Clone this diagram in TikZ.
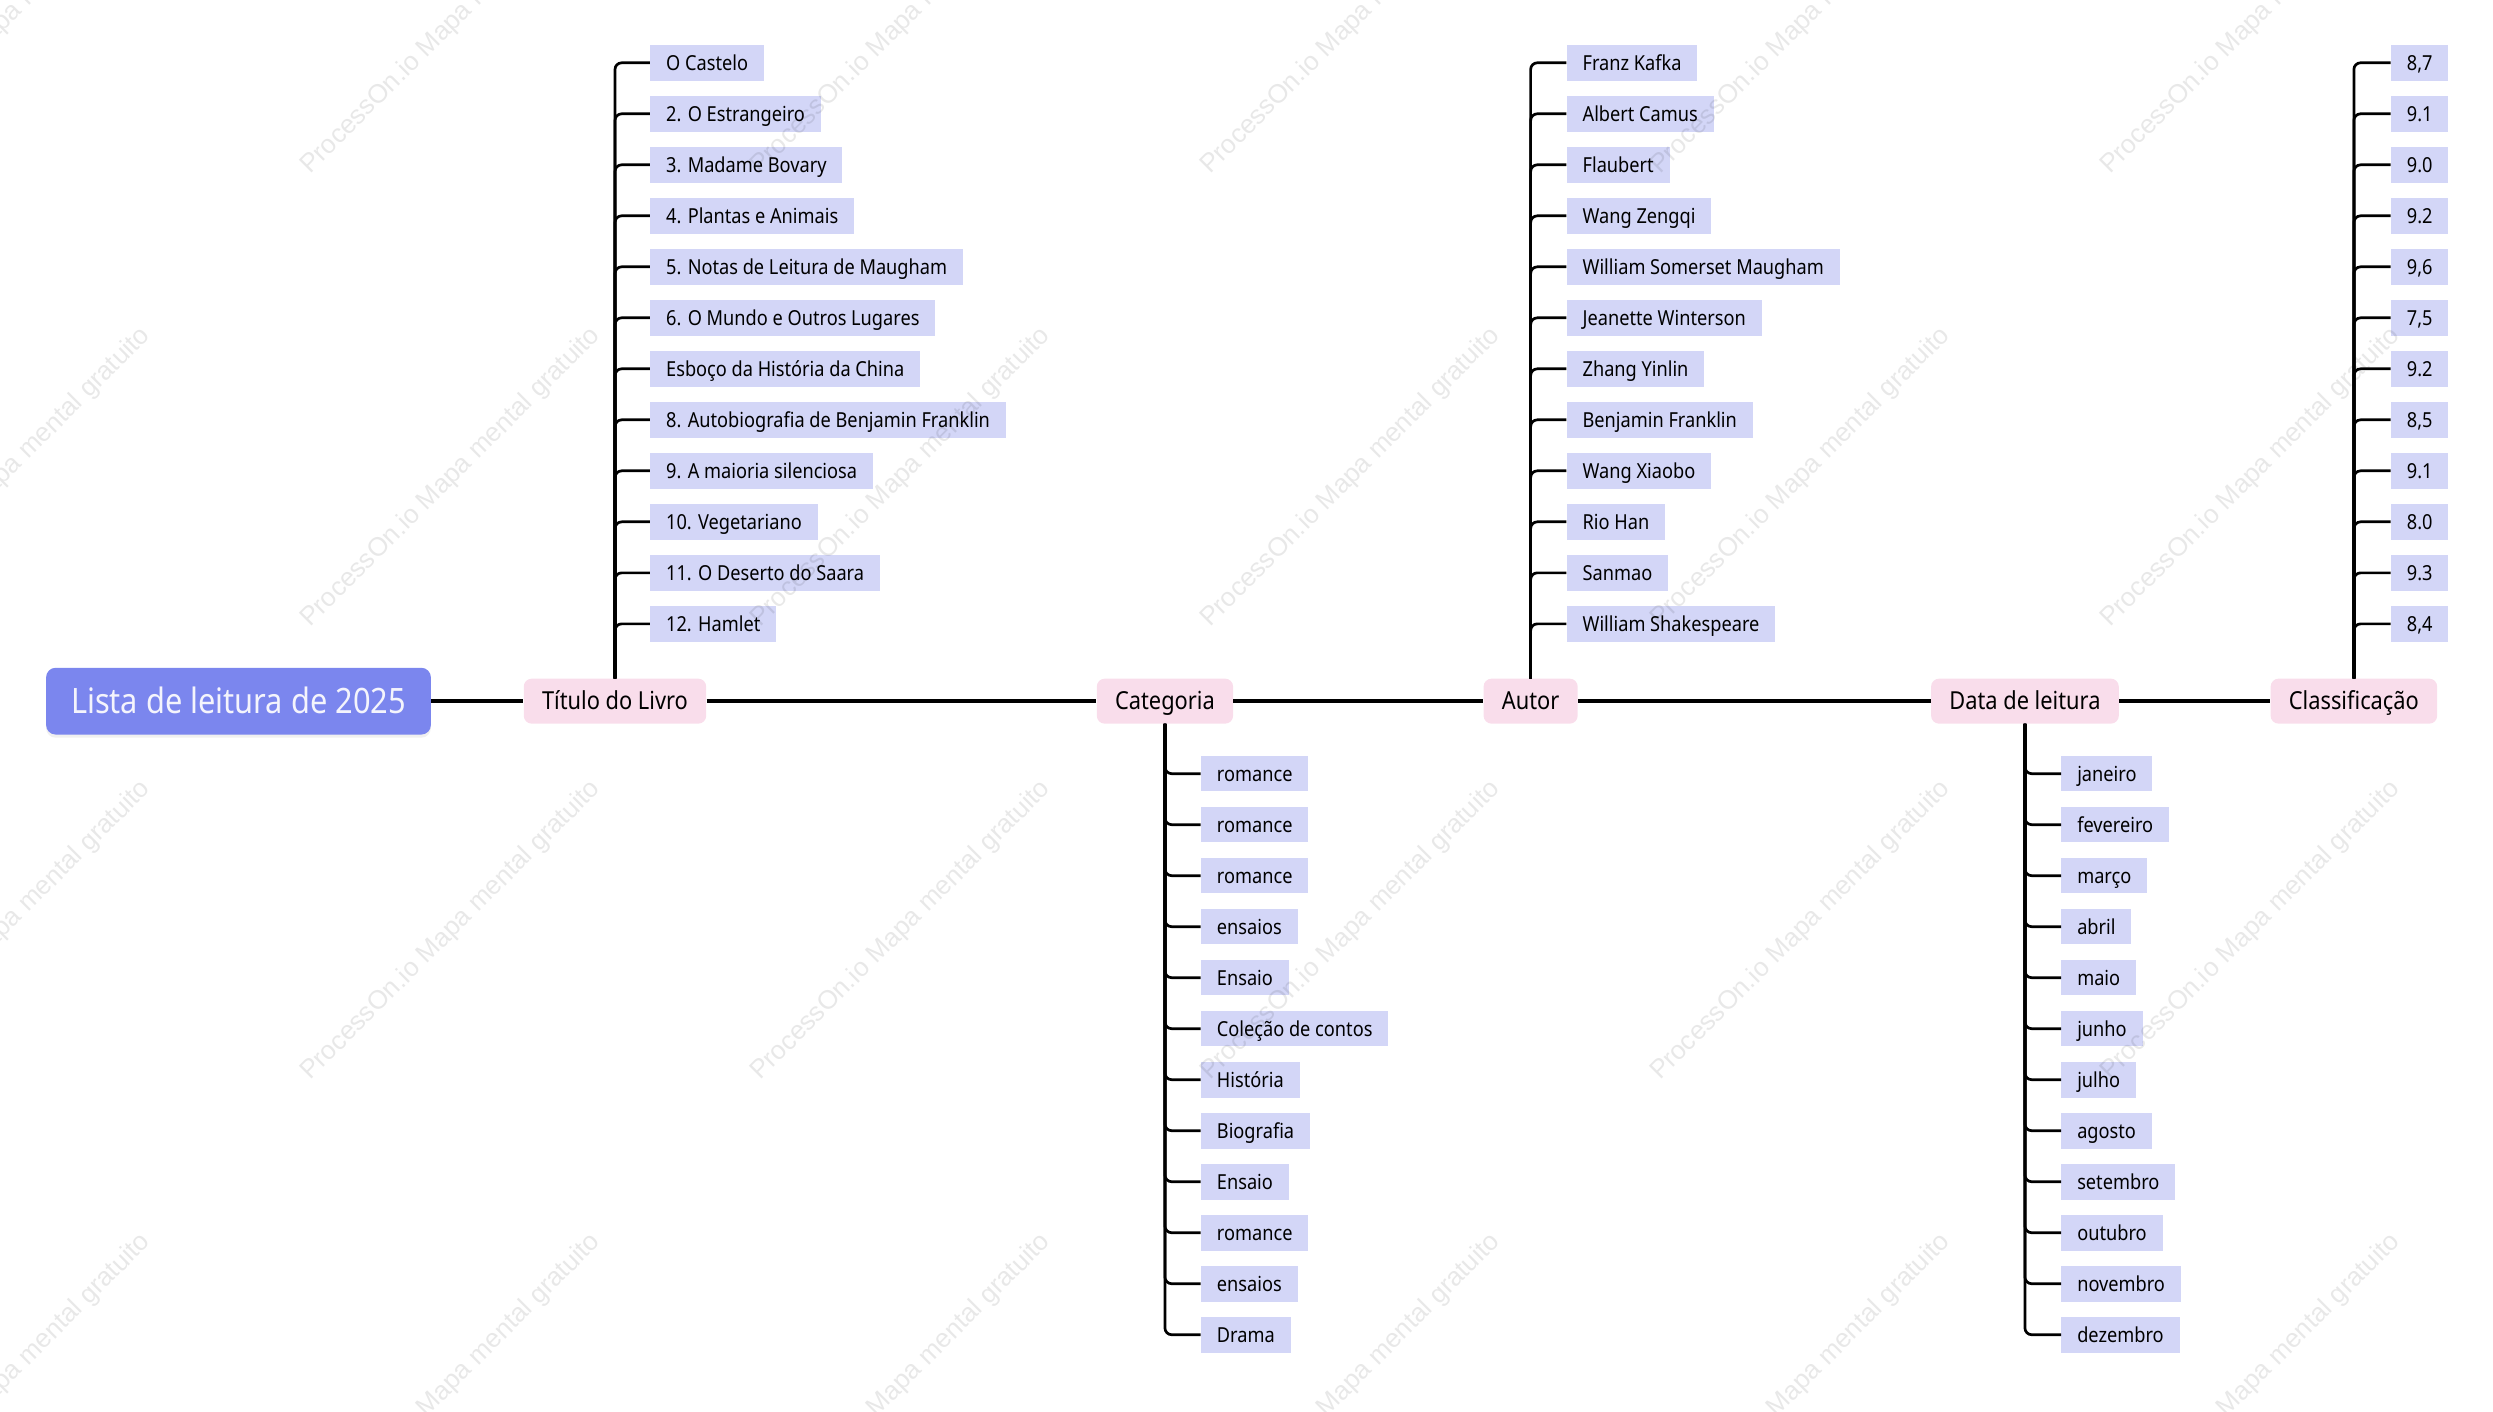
\documentclass[tikz,border=0pt]{standalone}
\usepackage{fontspec}
\setmainfont{Noto Sans}[FakeStretch=0.88]
\newfontfamily\wmfont{Liberation Sans}
\usetikzlibrary{shadows}
\definecolor{rootc}{HTML}{7B86EE}
\definecolor{pinkc}{HTML}{F9DDEB}
\definecolor{lavc}{HTML}{D3D6F7}
\definecolor{roottext}{HTML}{F4F4FC}
\tikzset{
  rootbox/.style={fill=rootc, rounded corners=6pt, minimum width=242pt, minimum height=42pt,
    text=roottext, font=\fontsize{22}{26}\selectfont, text height=15.5pt, text depth=0pt,
    drop shadow={opacity=0.12, shadow xshift=0pt, shadow yshift=-2pt}},
  topicbox/.style={fill=pinkc, rounded corners=5pt, minimum height=28.3pt, inner xsep=11.5pt,
    font=\fontsize{15.6}{18}\selectfont, text height=11pt, text depth=0pt},
  leafbox/.style={fill=lavc, minimum height=22.4pt, minimum width=36pt, inner xsep=10pt,
    anchor=west, font=\fontsize{13}{15}\selectfont, text height=9.3pt, text depth=0pt},
  mainline/.style={line width=2.2pt},
  branch/.style={line width=1.7pt, rounded corners=4.2pt},
  wm/.style={text=black, text opacity=0.09, font=\wmfont\fontsize{16.5}{18}\selectfont,
    rotate=45, anchor=base west, inner sep=0pt}
}
\begin{document}
\begin{tikzpicture}[x=1pt, y=-1pt]
\useasboundingbox (0,0) rectangle (1568,888);

% root and topics
\node[rootbox] (root) at (150,441) {Lista de leitura de 2025};
\node[topicbox] (t) at (386.8,441) {Título do Livro};
\node[topicbox] (c) at (732.7,441) {Categoria};
\node[topicbox] (a) at (962.7,441) {Autor};
\node[topicbox] (d) at (1273.6,441) {Data de leitura};
\node[topicbox] (r) at (1480.5,441) {Classificação};

\draw[mainline] (root.east) -- (t.west);
\draw[mainline] (t.east) -- (c.west);
\draw[mainline] (c.east) -- (a.west);
\draw[mainline] (a.east) -- (d.west);
\draw[mainline] (d.east) -- (r.west);

% titles
\foreach \txt [count=\i] in {O Castelo, 2. O Estrangeiro, 3. Madame Bovary, 4. Plantas e Animais,
  5. Notas de Leitura de Maugham, 6. O Mundo e Outros Lugares, Esboço da História da China,
  8. Autobiografia de Benjamin Franklin, 9. A maioria silenciosa, 10. Vegetariano,
  11. O Deserto do Saara, 12. Hamlet}{
  \node[leafbox] (t\i) at (408.8,{39.5+32.08*(\i-1)}) {\txt};
  \draw[branch] (t.north) |- (t\i.west);
}
% categories
\foreach \txt [count=\i] in {romance, romance, romance, ensaios, Ensaio, Coleção de contos,
  História, Biografia, Ensaio, romance, ensaios, Drama}{
  \node[leafbox] (c\i) at (755.2,{486.6+32.08*(\i-1)}) {\txt};
  \draw[branch] (c.south) |- (c\i.west);
}
% authors
\foreach \txt [count=\i] in {Franz Kafka, Albert Camus, Flaubert, Wang Zengqi,
  William Somerset Maugham, Jeanette Winterson, Zhang Yinlin, Benjamin Franklin,
  Wang Xiaobo, Rio Han, Sanmao, William Shakespeare}{
  \node[leafbox] (a\i) at (985.2,{39.5+32.08*(\i-1)}) {\txt};
  \draw[branch] (a.north) |- (a\i.west);
}
% dates
\foreach \txt [count=\i] in {janeiro, fevereiro, março, abril, maio, junho, julho, agosto,
  setembro, outubro, novembro, dezembro}{
  \node[leafbox] (d\i) at (1296.3,{486.6+32.08*(\i-1)}) {\txt};
  \draw[branch] (d.south) |- (d\i.west);
}
% ratings
\foreach \txt [count=\i] in {{8,7}, {9.1}, {9.0}, {9.2}, {9,6}, {7,5}, {9.2}, {8,5},
  {9.1}, {8.0}, {9.3}, {8,4}}{
  \node[leafbox] (r\i) at (1503.6,{39.5+32.08*(\i-1)}) {\txt};
  \draw[branch] (r.north) |- (r\i.west);
}

% watermarks
\foreach \wx in {-88,195,478,761,1044,1327}{
  \foreach \wy in {110,395,680,965}{
    \node[wm] (wm-\wx-\wy) at (\wx,\wy) {ProcessOn.io Mapa mental gratuito};
  }
}
\end{tikzpicture}
\end{document}
